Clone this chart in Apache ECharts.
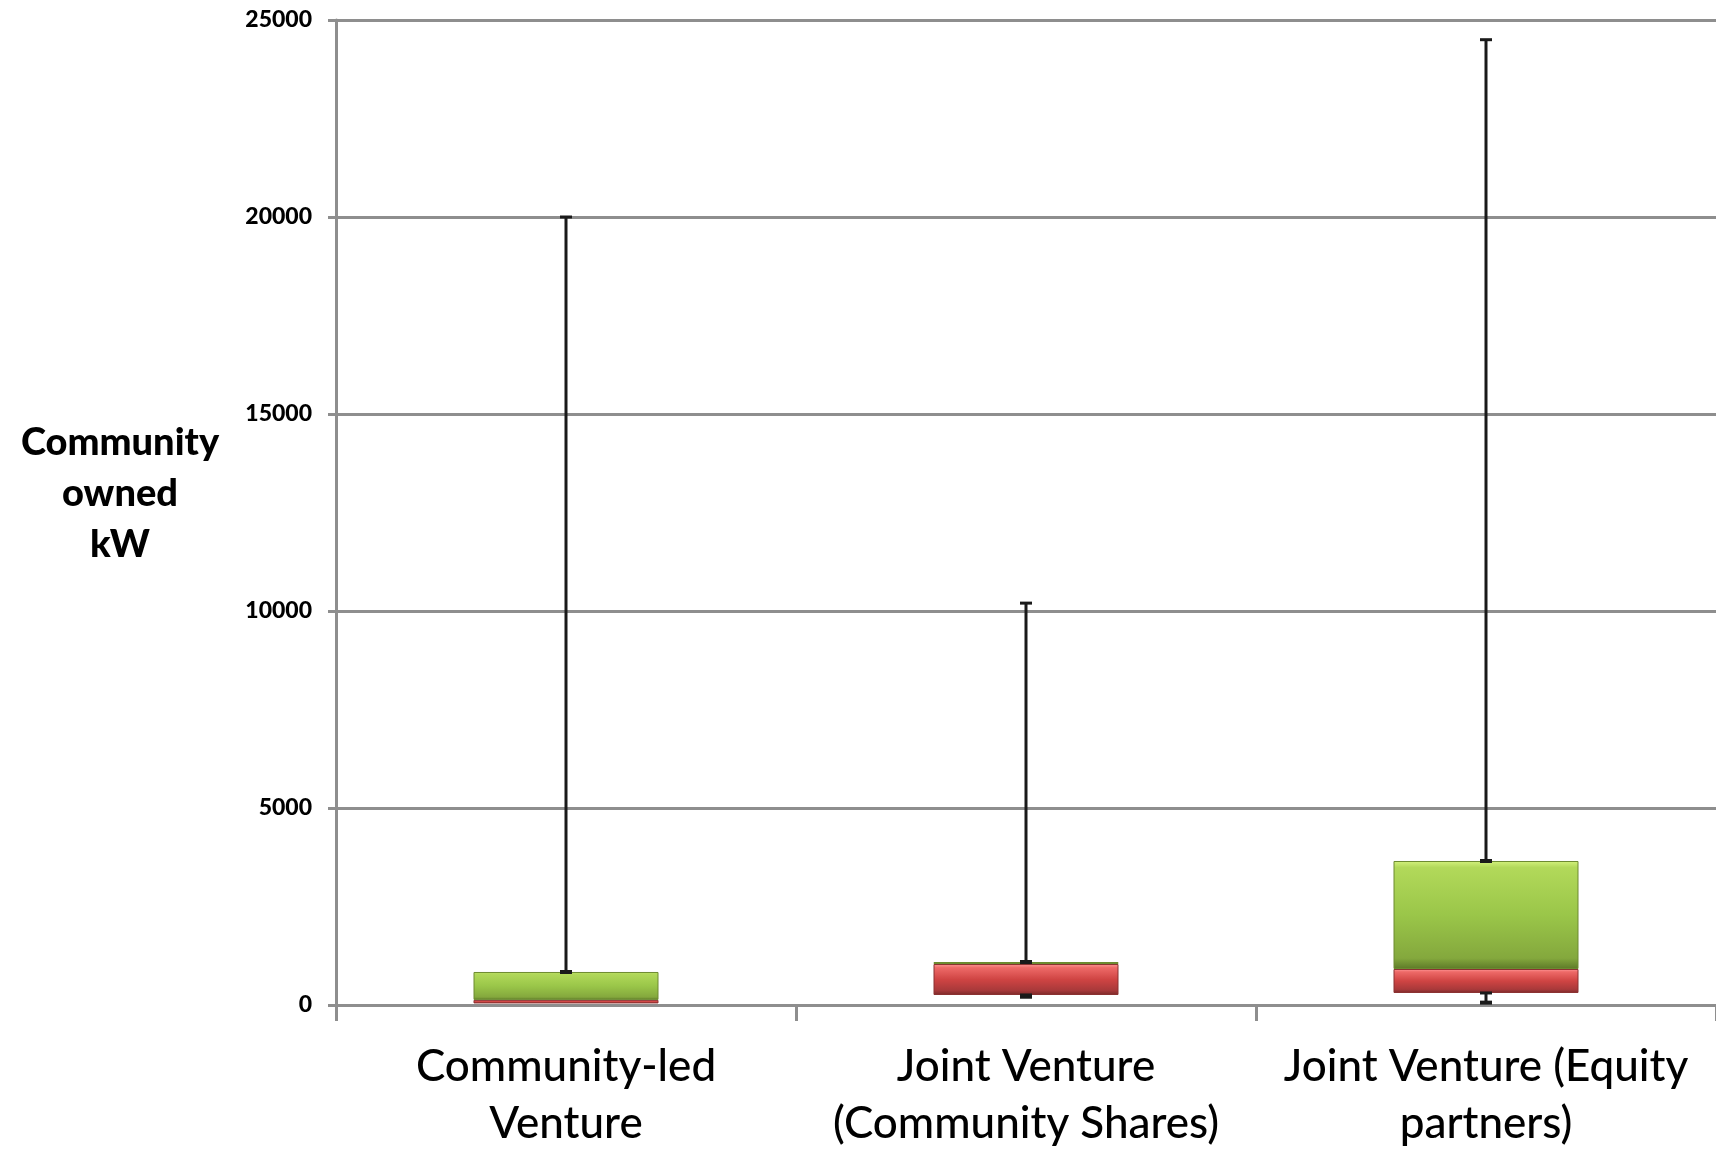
<!DOCTYPE html>
<html>
<head>
<meta charset="utf-8">
<script src="https://cdn.jsdelivr.net/npm/echarts@6/dist/echarts.min.js"></script>
<style>
html,body{margin:0;padding:0;background:#fff;}
#chart{width:1716px;height:1149px;}
</style>
</head>
<body>
<div id="chart"></div>
<script>
const categories = ['Community-led\nVenture', 'Joint Venture\n(Community Shares)', 'Joint Venture (Equity\npartners)'];
const minValues = [40, 210, 60];
const q1Values = [40, 254, 305];
const medianValues = [130, 1040, 914];
const q3Values = [838, 1091, 3655];
const maxValues = [20000, 10200, 24500];
const yTicks = [0, 5000, 10000, 15000, 20000, 25000];

const lowerSeg = q1Values.map((q, i) => medianValues[i] - q);
const upperSeg = q3Values.map((q, i) => q - medianValues[i]);
const whiskerData = categories.map((c, i) => [i, q1Values[i], q3Values[i], minValues[i], maxValues[i]]);

const greenGrad = new echarts.graphic.LinearGradient(0, 0, 0, 1, [
  {offset: 0, color: '#d3f17c'},
  {offset: 0.06, color: '#b2d95a'},
  {offset: 0.5, color: '#9ac649'},
  {offset: 0.9, color: '#84a83d'},
  {offset: 1, color: '#5d7a28'}
]);
const redGrad = new echarts.graphic.LinearGradient(0, 0, 0, 1, [
  {offset: 0, color: '#ff9b9b'},
  {offset: 0.12, color: '#ee6a68'},
  {offset: 0.5, color: '#cf4443'},
  {offset: 0.85, color: '#a8393a'},
  {offset: 1, color: '#7a2a2a'}
]);

const chart = echarts.init(document.getElementById('chart'));
chart.setOption({
  animation: false,
  backgroundColor: '#ffffff',
  title: {
    text: 'Community\nowned\nkW',
    left: 115,
    top: 412,
    textAlign: 'center',
    textStyle: {fontFamily: 'Lato', fontWeight: 900, fontSize: 38, lineHeight: 51, color: '#000'}
  },
  grid: {left: 336, right: 0, top: 20, bottom: 144, containLabel: false, outerBoundsMode: 'none'},
  xAxis: {
    type: 'category',
    data: categories,
    axisLine: {lineStyle: {color: '#8e8e8e', width: 3}},
    axisTick: {show: true, length: 16, alignWithLabel: false, lineStyle: {color: '#8e8e8e', width: 3}},
    axisLabel: {fontFamily: 'Lato', fontWeight: 500, fontSize: 44, lineHeight: 57, color: '#000', margin: 33, interval: 0}
  },
  yAxis: {
    type: 'value',
    min: yTicks[0],
    max: yTicks[yTicks.length - 1],
    interval: yTicks[1] - yTicks[0],
    axisLine: {show: true, lineStyle: {color: '#8e8e8e', width: 3}},
    axisTick: {show: true, length: 8, lineStyle: {color: '#8e8e8e', width: 3}},
    splitLine: {lineStyle: {color: '#8e8e8e', width: 3}},
    axisLabel: {fontFamily: 'Lato', fontWeight: 900, fontSize: 23, color: '#000', margin: 24, formatter: function (v) { return String(v); }}
  },
  series: [
    {
      type: 'bar', stack: 'box', data: q1Values, barWidth: 185,
      itemStyle: {color: 'rgba(0,0,0,0)'}, silent: true
    },
    {
      type: 'bar', stack: 'box', data: lowerSeg, barWidth: 185,
      itemStyle: {color: redGrad, borderColor: '#8a3030', borderWidth: 1}
    },
    {
      type: 'bar', stack: 'box', data: upperSeg, barWidth: 185,
      itemStyle: {color: greenGrad, borderColor: '#6c8a30', borderWidth: 1}
    },
    {
      type: 'custom',
      z: 10,
      data: whiskerData,
      renderItem: function (params, api) {
        const i = api.value(0);
        const q1 = api.value(1), q3 = api.value(2), mn = api.value(3), mx = api.value(4);
        const pTop = api.coord([i, q3]);
        const pMax = api.coord([i, mx]);
        const pQ1 = api.coord([i, q1]);
        const pMin = api.coord([i, mn]);
        const half = 6;
        const style = {stroke: '#1a1a1a', lineWidth: 3};
        const children = [
          {type: 'line', shape: {x1: pTop[0], y1: pTop[1], x2: pMax[0], y2: pMax[1]}, style: style},
          {type: 'line', shape: {x1: pMax[0] - half, y1: pMax[1], x2: pMax[0] + half, y2: pMax[1]}, style: style},
          {type: 'line', shape: {x1: pTop[0] - half, y1: pTop[1], x2: pTop[0] + half, y2: pTop[1]}, style: {stroke: '#1a1a1a', lineWidth: 4}}
        ];
        if (mn < q1) {
          children.push({type: 'line', shape: {x1: pQ1[0], y1: pQ1[1], x2: pMin[0], y2: pMin[1]}, style: style});
          children.push({type: 'line', shape: {x1: pMin[0] - half, y1: pMin[1], x2: pMin[0] + half, y2: pMin[1]}, style: {stroke: '#1a1a1a', lineWidth: 4}});
          children.push({type: 'line', shape: {x1: pQ1[0] - half, y1: pQ1[1], x2: pQ1[0] + half, y2: pQ1[1]}, style: {stroke: '#1a1a1a', lineWidth: 3}});
        }
        return {type: 'group', children: children};
      }
    }
  ]
});
</script>
</body>
</html>
